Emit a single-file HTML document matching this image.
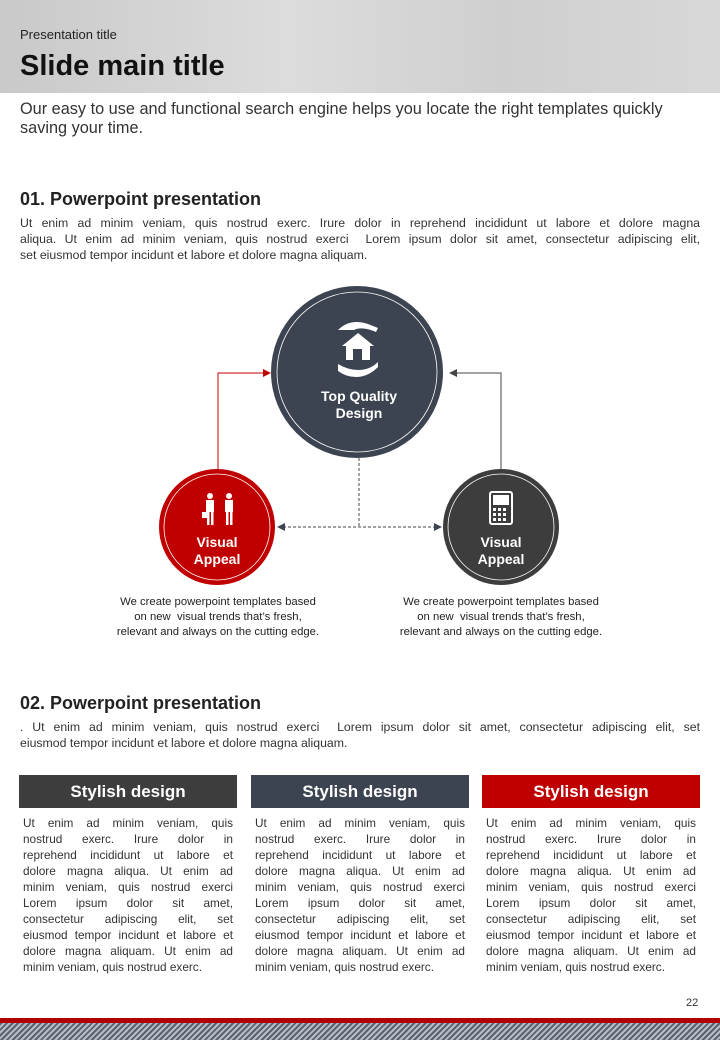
<!DOCTYPE html>
<html><head><meta charset="utf-8"><style>
*{margin:0;padding:0;box-sizing:border-box}
body{width:720px;height:1040px;position:relative;background:#fff;font-family:"Liberation Sans",sans-serif;color:#222;overflow:hidden}
.a{position:absolute}
.hdr{left:0;top:0;width:720px;height:93px;background:linear-gradient(90deg,#c9c9c9,#dcdcdc 40%,#cfcfcf 70%,#d8d8d8)}
.j div{text-align:justify;text-align-last:justify;white-space:nowrap;height:16px}
.j div.l{text-align-last:left}
.j{font-size:12.3px;line-height:16px;color:#333}
.h2{font-size:18px;font-weight:bold;color:#222}
.box{width:218px;height:33px;color:#fff;font-weight:bold;font-size:17px;text-align:center;line-height:33px}
.col{width:210px;font-size:11.8px;line-height:16px;color:#333}
.cap{font-size:11.3px;line-height:15px;text-align:center;color:#222;width:280px;white-space:nowrap}
</style></head><body>
<div class="a hdr"></div>
<div class="a" style="left:20px;top:27px;font-size:13px;color:#222">Presentation title</div>
<div class="a" style="left:20px;top:50px;font-size:29px;font-weight:bold;color:#111">Slide main title</div>
<div class="a" style="left:20px;top:100px;width:680px;font-size:16.3px;line-height:19px;color:#333">Our easy to use and functional search engine helps you locate the right templates quickly<br>saving your time.</div>
<div class="a h2" style="left:20px;top:189px">01. Powerpoint presentation</div>
<div class="a j" style="left:20px;top:215px;width:680px">
<div>Ut enim ad minim veniam, quis nostrud exerc. Irure dolor in reprehend incididunt ut labore et dolore magna</div>
<div>aliqua. Ut enim ad minim veniam, quis nostrud exerci&nbsp; Lorem ipsum dolor sit amet, consectetur adipiscing elit,</div>
<div class="l">set eiusmod tempor incidunt et labore et dolore magna aliquam.</div></div>
<svg class="a" style="left:0;top:0" width="720" height="1040">
<polyline points="218,470 218,373 266,373" fill="none" stroke="#c00000" stroke-width="1"/>
<polygon points="271,373 263,369 263,377" fill="#c00000"/>
<polyline points="501,470 501,373 455,373" fill="none" stroke="#444" stroke-width="1"/>
<polygon points="449,373 457,369 457,377" fill="#444"/>
<line x1="359" y1="458" x2="359" y2="527" stroke="#444" stroke-dasharray="3,2"/>
<line x1="283" y1="527" x2="437" y2="527" stroke="#444" stroke-dasharray="3,2"/>
<polygon points="277,527 285,523 285,531" fill="#3b4450"/>
<polygon points="442,527 434,523 434,531" fill="#3b4450"/>
<circle cx="357" cy="372" r="86" fill="#3b4450"/>
<circle cx="357" cy="372" r="80" fill="none" stroke="#fff" stroke-width="0.8"/>
<circle cx="217" cy="527" r="58" fill="#c00000"/>
<circle cx="217" cy="527" r="53" fill="none" stroke="#fff" stroke-width="0.8"/>
<circle cx="501" cy="527" r="58" fill="#3d3d3d"/>
<circle cx="501" cy="527" r="53" fill="none" stroke="#fff" stroke-width="0.8"/>
<path d="M338,330 q12,-12 30,-6 l10,4 l-2,4 q-14,-6 -22,-2 z" fill="#fff"/>
<path d="M342,346 l16,-13 l16,13 l-4,0 l0,14 l-24,0 l0,-14z" fill="#fff"/>
<rect x="353" y="349" width="9" height="11" fill="#3b4450"/>
<path d="M338,364 q10,6 20,6 q12,0 20,-8 l0,5 q-10,10 -22,10 q-10,0 -18,-6z" fill="#fff"/>
<g fill="#fff"><circle cx="210" cy="496" r="3"/><rect x="206" y="500" width="8" height="12"/><rect x="207" y="511" width="2.5" height="14"/><rect x="211" y="511" width="2.5" height="14"/><rect x="202" y="512" width="5" height="6"/>
<circle cx="229" cy="496" r="3"/><rect x="225" y="500" width="8" height="12"/><rect x="226" y="511" width="2.5" height="14"/><rect x="230" y="511" width="2.5" height="14"/></g>
<rect x="490" y="492" width="22" height="32" rx="2" fill="none" stroke="#fff" stroke-width="2"/>
<rect x="493" y="495" width="16" height="10" fill="#fff"/>
<g fill="#fff"><rect x="493" y="508" width="3" height="3"/><rect x="498" y="508" width="3" height="3"/><rect x="503" y="508" width="3" height="3"/><rect x="493" y="513" width="3" height="3"/><rect x="498" y="513" width="3" height="3"/><rect x="503" y="513" width="3" height="3"/><rect x="493" y="518" width="3" height="3"/><rect x="498" y="518" width="3" height="3"/><rect x="503" y="518" width="3" height="3"/></g>
<g font-family="Liberation Sans,sans-serif" font-weight="bold" fill="#fff" text-anchor="middle">
<text x="359" y="401" font-size="14">Top Quality</text><text x="359" y="418" font-size="14">Design</text>
<text x="217" y="547" font-size="14">Visual</text><text x="217" y="564" font-size="14">Appeal</text>
<text x="501" y="547" font-size="14">Visual</text><text x="501" y="564" font-size="14">Appeal</text></g>
</svg>
<div class="a cap" style="left:78px;top:595px">We create powerpoint templates based<br>on new&nbsp; visual trends that’s fresh,<br>relevant and always on the cutting edge.</div>
<div class="a cap" style="left:361px;top:595px">We create powerpoint templates based<br>on new&nbsp; visual trends that’s fresh,<br>relevant and always on the cutting edge.</div>
<div class="a h2" style="left:20px;top:693px">02. Powerpoint presentation</div>
<div class="a j" style="left:20px;top:719px;width:680px">
<div>. Ut enim ad minim veniam, quis nostrud exerci&nbsp; Lorem ipsum dolor sit amet, consectetur adipiscing elit, set</div>
<div class="l">eiusmod tempor incidunt et labore et dolore magna aliquam.</div></div>
<div class="a box" style="left:19px;top:775px;background:#3d3d3d">Stylish design</div>
<div class="a box" style="left:251px;top:775px;background:#3b4450">Stylish design</div>
<div class="a box" style="left:482px;top:775px;background:#c00000">Stylish design</div>
<div class="a j col" style="left:23px;top:815px"><div>Ut enim ad minim veniam, quis</div><div>nostrud exerc. Irure dolor in</div><div>reprehend incididunt ut labore et</div><div>dolore magna aliqua. Ut enim ad</div><div>minim veniam, quis nostrud exerci</div><div>Lorem ipsum dolor sit amet,</div><div>consectetur adipiscing elit, set</div><div>eiusmod tempor incidunt et labore et</div><div>dolore magna aliquam. Ut enim ad</div><div class="l">minim veniam, quis nostrud exerc.</div></div>
<div class="a j col" style="left:255px;top:815px"><div>Ut enim ad minim veniam, quis</div><div>nostrud exerc. Irure dolor in</div><div>reprehend incididunt ut labore et</div><div>dolore magna aliqua. Ut enim ad</div><div>minim veniam, quis nostrud exerci</div><div>Lorem ipsum dolor sit amet,</div><div>consectetur adipiscing elit, set</div><div>eiusmod tempor incidunt et labore et</div><div>dolore magna aliquam. Ut enim ad</div><div class="l">minim veniam, quis nostrud exerc.</div></div>
<div class="a j col" style="left:486px;top:815px"><div>Ut enim ad minim veniam, quis</div><div>nostrud exerc. Irure dolor in</div><div>reprehend incididunt ut labore et</div><div>dolore magna aliqua. Ut enim ad</div><div>minim veniam, quis nostrud exerci</div><div>Lorem ipsum dolor sit amet,</div><div>consectetur adipiscing elit, set</div><div>eiusmod tempor incidunt et labore et</div><div>dolore magna aliquam. Ut enim ad</div><div class="l">minim veniam, quis nostrud exerc.</div></div>
<div class="a" style="left:686px;top:997px;font-size:11px;color:#333">22</div>
<div class="a" style="left:0;top:1018px;width:720px;height:5px;background:#b00000"></div>
<div class="a" style="left:0;top:1023px;width:720px;height:17px;background:repeating-linear-gradient(135deg,#5a6270 0 2px,#b8bcc4 2px 4px)"></div>
</body></html>
